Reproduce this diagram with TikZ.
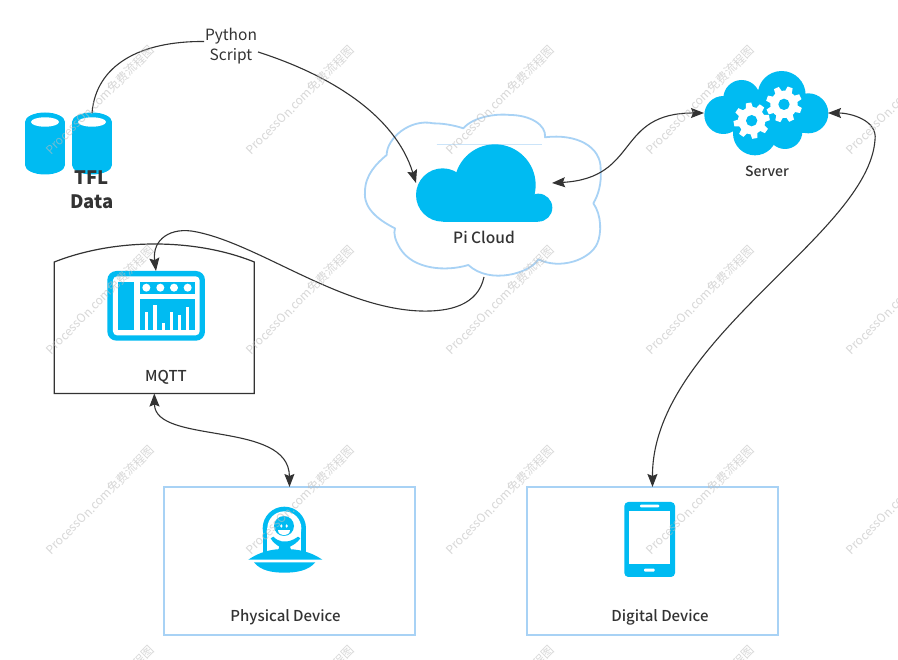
\documentclass[tikz,border=0pt]{standalone}
\usepackage{fontspec}
\setmainfont{Noto Sans CJK SC}
\newfontfamily\medfont{Noto Sans CJK SC Medium}
\usetikzlibrary{arrows.meta}
\definecolor{iconblue}{HTML}{00BBF2}
\definecolor{edgeblue}{HTML}{A8D2F5}
\definecolor{ink}{HTML}{333333}
\definecolor{wm}{HTML}{BDBDBD}
\tikzset{
  link/.style={draw=ink,line width=1.1pt},
  endtip/.tip={Stealth[length=13pt,width=10pt,inset=2pt]},
  hold/.style={inner sep=0pt,outer sep=0pt,draw=none},
  devbox/.style={draw=edgeblue,line width=1.8pt,inner sep=0pt,outer sep=0pt,minimum width=251pt,minimum height=148pt},
  lab/.style={text=ink,font=\fontsize{15}{18}\medfont,inner sep=0pt},
  plaintext/.style={text=ink,font=\fontsize{15.5}{20}\selectfont,inner sep=0pt,align=center},
  bigtext/.style={text=ink,font=\fontsize{18.5}{24}\selectfont\bfseries,inner sep=0pt,align=center},
  wmark/.style={text=wm,font=\fontsize{12}{14}\selectfont,rotate=45,inner sep=0pt,opacity=.6},
  zoomat/.style={shift={(#1)},scale=1/3}
}
\begin{document}
\begin{tikzpicture}[x=1pt,y=-1pt]
\useasboundingbox (0,0) rectangle (898,660);
\fill[white] (0,0) rectangle (898,660);

% cylinders
\foreach \cx in {45,92}{
  \fill[iconblue] (\cx,122) ellipse[x radius=20,y radius=9.5];
  \fill[iconblue] (\cx,165) ellipse[x radius=20,y radius=9.5];
  \fill[iconblue] (\cx-20,122) rectangle (\cx+20,165);
  \fill[white] (\cx,122) ellipse[x radius=14,y radius=4.7];
}
\node[hold,minimum width=40pt,minimum height=62pt] (tfl) at (92,144) {};
\node[bigtext] (tfltext) at (92,190) {TFL\\Data};

% pi cloud outline
\node[hold,minimum width=236pt,minimum height=150pt] (picloud) at (484,202) {};
\begin{scope}[zoomat={350,100}]
\draw[edgeblue,line width=1.8pt,line join=round]
 (110,165) .. controls (110,115) and (180,55) .. (250,70)
 .. controls (290,70) and (325,80) .. (340,85)
 .. controls (370,50) and (440,40) .. (480,45)
 .. controls (540,45) and (590,75) .. (585,112)
 .. controls (680,100) and (755,140) .. (752,210)
 .. controls (755,250) and (745,285) .. (730,310)
 .. controls (755,345) and (755,400) .. (742,430)
 .. controls (720,480) and (630,510) .. (565,478)
 .. controls (540,520) and (420,555) .. (355,495)
 .. controls (290,515) and (190,510) .. (150,445)
 .. controls (135,420) and (130,400) .. (135,385)
 .. controls (85,360) and (40,325) .. (45,275)
 .. controls (45,225) and (80,190) .. (110,165) -- cycle;
\draw[edgeblue!60,line width=.6pt] (260,133) -- (575,133);
\begin{scope}
\clip (190,120) rectangle (615,365);
\fill[iconblue] (435,255) circle[radius=122];
\fill[iconblue] (278,285) circle[radius=80];
\fill[iconblue] (565,323) circle[radius=42];
\fill[iconblue] (278,300) rectangle (565,365);
\end{scope}
\end{scope}
\node[hold,minimum width=136pt,minimum height=78pt] (picon) at (484,183) {};
\node[lab,font=\fontsize{15.5}{18}\medfont] (pitext) at (484,237) {Pi Cloud};

% server cloud
\node[hold,minimum width=124pt,minimum height=84pt] (server) at (766,113) {};
\begin{scope}[zoomat={670,50}]
\fill[iconblue] (160,195) circle[radius=57];
\fill[iconblue] (215,145) circle[radius=55];
\fill[iconblue] (335,135) circle[radius=72];
\fill[iconblue] (415,190) circle[radius=60];
\fill[iconblue] (255,250) circle[radius=66];
\fill[iconblue] (345,245) circle[radius=52];
\fill[iconblue] (200,140) rectangle (420,250);
\foreach \gx/\gy/\ga in {245/212/10,342/163/25}{
  \fill[white] (\gx,\gy) circle[radius=41];
  \foreach \k in {0,45,...,315}{
    \fill[white,shift={(\gx,\gy)},rotate=\k+\ga] (-12,-30) -- (-8,-54) -- (8,-54) -- (12,-30) -- cycle;
  }
  \fill[iconblue] (\gx,\gy) circle[radius=17];
}
\end{scope}
\node[lab,font=\fontsize{14}{16}\medfont] (servertext) at (767,171) {Server};

% mqtt box
\coordinate (mtl) at (54.3,262);
\coordinate (mtr) at (254.3,262);
\draw[ink,line width=1.2pt] (mtl) .. controls (115,238) and (195,238) .. (mtr) -- (254.3,393.5) -- (54.3,393.5) -- cycle;
\node[hold,minimum width=200pt,minimum height=132pt] (mqtt) at (154.3,327.5) {};
\begin{scope}[zoomat={30,230}]
\fill[iconblue,rounded corners=9pt] (232,123) rectangle (525,332);
\fill[white,rounded corners=4pt] (249,139) rectangle (509,316);
\fill[iconblue] (263,155) rectangle (313,300);
\fill[iconblue] (330,155) rectangle (494,192);
\foreach \dx in {349,391,432,473}{\fill[white] (\dx,173) circle[radius=12];}
\fill[iconblue] (330,208) rectangle (494,300);
\foreach \bx/\by in {349/245,375/225,400/278,424/245,448/255,473/232}{
  \fill[white] (\bx-5,\by) rectangle (\bx+5,300);
}
\end{scope}
\node[hold,minimum width=98pt,minimum height=70pt] (mqicon) at (156,306) {};
\node[lab] (mqtext) at (166,377) {MQTT};

% device boxes
\node[devbox] (phys) at (289.5,561) {};
\node[devbox] (digi) at (652.5,561) {};
\node[lab] (phystext) at (285.5,617) {Physical Device};
\node[lab] (digitext) at (660,617) {Digital Device};

% ufo
\begin{scope}[zoomat={240,500}]
\fill[iconblue] (133,85) circle[radius=65];
\fill[iconblue] (68,85) rectangle (198,155);
\fill[white] (133,85) circle[radius=51];
\fill[white] (82,85) rectangle (184,155);
\fill[iconblue] (132,78) circle[radius=30];
\fill[iconblue] (92,115) -- (100,110) .. controls (108,118) and (116,122) .. (125,124) -- (143,124) .. controls (155,122) and (166,116) .. (174,110) -- (181,115) .. controls (172,128) and (160,135) .. (150,140) -- (156,158) -- (112,158) -- (118,140) .. controls (108,134) and (98,126) .. (92,115) -- cycle;
\fill[white] (114,90) -- (150,90) .. controls (150,111) and (114,111) .. (114,90) -- cycle;
\fill[white] (124,78) ellipse[x radius=3.5,y radius=5.5];
\fill[white] (140,78) ellipse[x radius=3.5,y radius=5.5];
\fill[iconblue] (25,179) .. controls (60,155) and (95,147) .. (133,147) .. controls (175,147) and (212,155) .. (247,179) -- cycle;
\fill[iconblue] (42,187) -- (226,187) .. controls (205,212) and (170,218) .. (133,218) .. controls (96,218) and (62,212) .. (42,187) -- cycle;
\end{scope}
\node[hold,minimum width=74pt,minimum height=66pt] (ufo) at (284.5,539) {};

% phone
\begin{scope}[zoomat={580,480}]
\fill[iconblue,rounded corners=4pt] (133,66) rectangle (285,291);
\fill[white] (148,92) rectangle (270,252);
\fill[white,rounded corners=1pt] (180,74) rectangle (238,82);
\fill[white,rounded corners=1pt] (192,266) rectangle (224,275);
\end{scope}
\node[hold,minimum width=51pt,minimum height=75pt] (phone) at (649.5,539) {};

% script label
\node[plaintext] (script) at (231,46) {Python\\Script};

% connectors
\coordinate (sa) at (204,41.5);
\coordinate (sb) at (258,52);
\draw[link] (tfl.north) .. controls (96,65) and (140,41) .. (sa);
\draw[link,-endtip] (sb) .. controls (330,75) and (395,115) .. (picon.west);
\draw[link,endtip-endtip] (picon.east) .. controls (640,178) and (615,113) .. (server.west);
\coordinate (bend1) at (875,140);
\draw[link,endtip-endtip] (server.east) .. controls (850,113) and (878,120) .. (bend1) .. controls (868,235) and (652,340) .. (digi.north);
\coordinate (bend2) at (420,311);
\coordinate (bend3) at (197,232);
\draw[link,-endtip] (picloud.south) .. controls (478,305) and (450,312) .. (bend2) .. controls (340,308) and (260,245) .. (bend3) .. controls (170,226) and (152,240) .. (mqicon.north);
\draw[link,endtip-endtip] (mqtt.south) .. controls (155,445) and (289,420) .. (phys.north);

% watermark
\clip (0,0) rectangle (898,660);
\foreach \wy in {100,300,500,700}{
  \foreach \wx in {100,300,500,700,900}{
    \node[wmark] at (\wx,\wy) {ProcessOn.com免费流程图};
  }
}
\end{tikzpicture}
\end{document}
